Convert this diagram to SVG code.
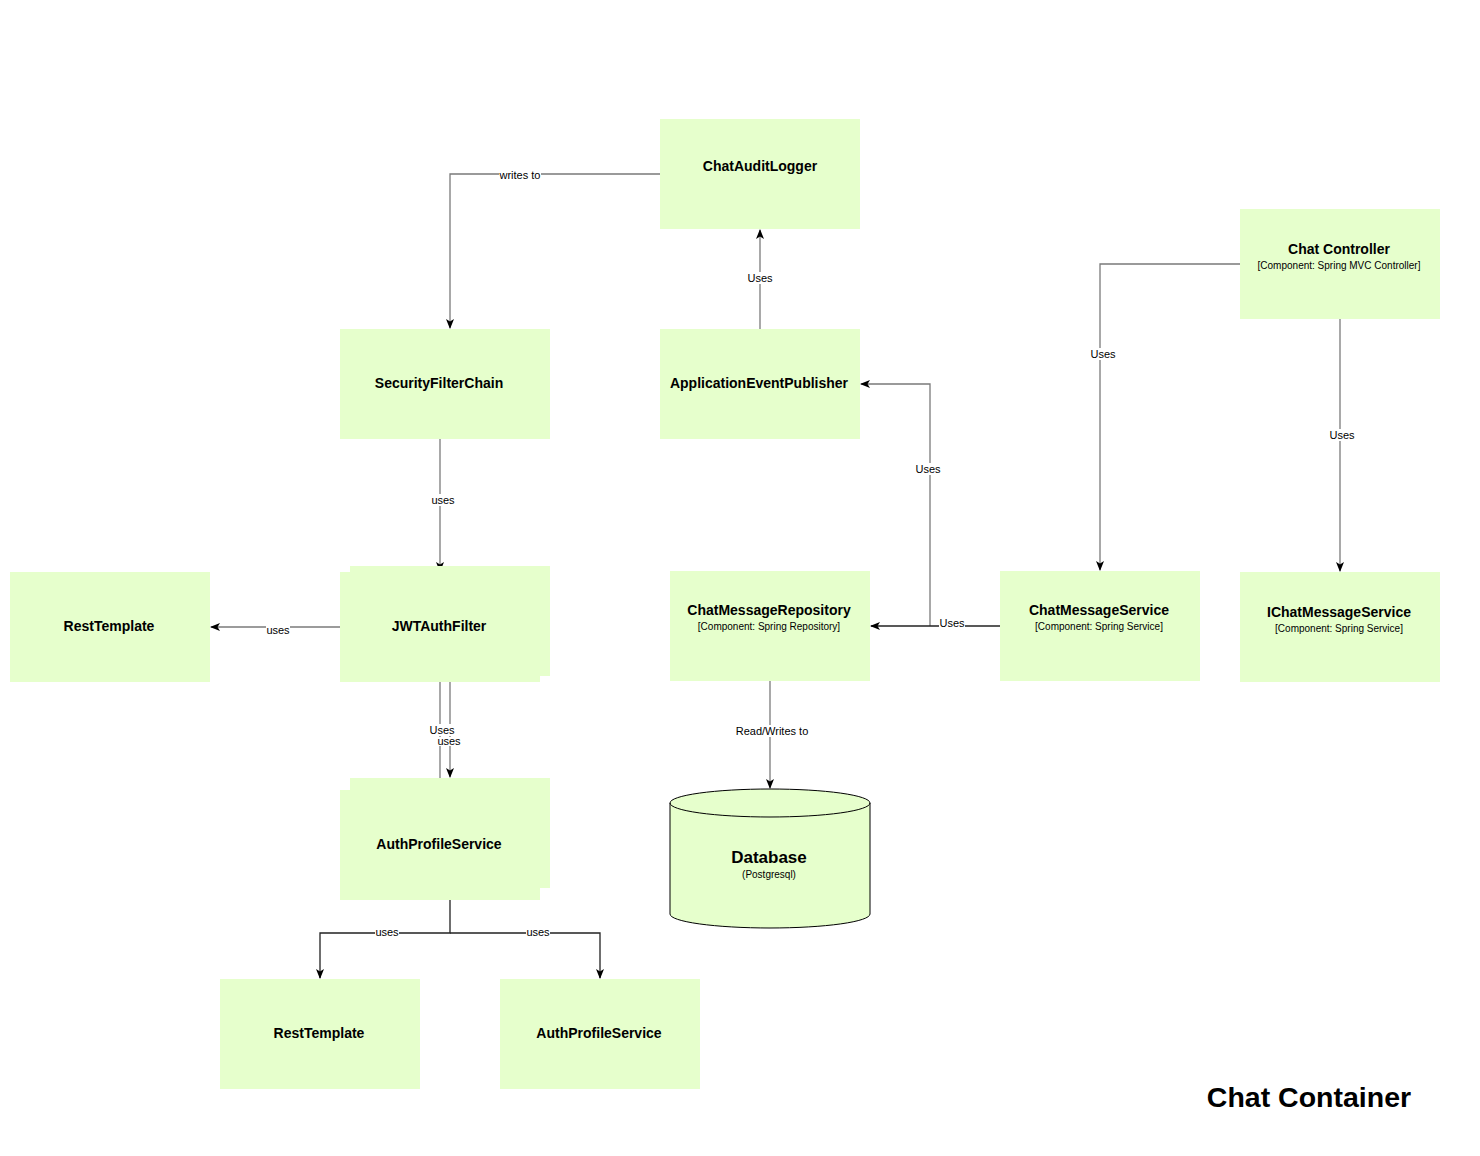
<svg xmlns="http://www.w3.org/2000/svg" width="1480" height="1156" viewBox="0 0 1480 1156">
  <style>
    .box { fill: #e6ffcc; }
    .title { font-family: "Liberation Sans", Arial, sans-serif; font-size: 14px; font-weight: bold; fill: #000; text-anchor: middle; }
    .sub { font-family: "Liberation Sans", Arial, sans-serif; font-size: 10px; fill: #000; text-anchor: middle; }
    .edge { fill: none; stroke: #7a7a7a; stroke-width: 1.3; marker-end: url(#arrow); }
    .edge.dark { stroke: #222; }
    .lbl { font-family: "Liberation Sans", Arial, sans-serif; font-size: 11px; fill: #000; text-anchor: middle; }
    .lblbg { fill: #fff; }
  </style>
  <defs>
    <marker id="arrow" viewBox="0 0 10 8" refX="9" refY="4" markerWidth="10" markerHeight="8" markerUnits="userSpaceOnUse" orient="auto">
      <path d="M0,0 L10,4 L0,8 L2.5,4 z" fill="#000"/>
    </marker>
  </defs>
  <rect width="1480" height="1156" fill="#fff"/>

  <!-- connectors -->
  <g id="connectors">
    <path class="edge" d="M660,174 H450 V328"/>
    <rect class="lblbg" x="499" y="169" width="42" height="12"/>
    <text class="lbl" x="520" y="179">writes to</text>

    <path class="edge" d="M760,329 V230"/>
    <rect class="lblbg" x="747" y="272" width="26" height="12"/>
    <text class="lbl" x="760" y="282">Uses</text>

    <path class="edge" d="M440,439 V571"/>
    <rect class="lblbg" x="431" y="494" width="24" height="12"/>
    <text class="lbl" x="443" y="504">uses</text>

    <path class="edge" d="M340,627 H211"/>
    <rect class="lblbg" x="266" y="625" width="24" height="11"/>
    <text class="lbl" x="278" y="634">uses</text>

    <path class="edge" d="M440,682 V789"/>
    <path class="edge" d="M450,676 V777"/>
    <rect class="lblbg" x="429" y="724" width="26" height="12"/>
    <text class="lbl" x="442" y="734">Uses</text>
    <rect class="lblbg" x="437" y="737" width="24" height="9"/>
    <text class="lbl" x="449" y="745">uses</text>

    <path class="edge dark" d="M450,900 V933 H320 V978"/>
    <path class="edge dark" d="M450,933 H600 V978"/>
    <rect class="lblbg" x="375" y="927" width="24" height="11"/>
    <text class="lbl" x="387" y="936">uses</text>
    <rect class="lblbg" x="526" y="927" width="24" height="11"/>
    <text class="lbl" x="538" y="936">uses</text>

    <path class="edge" d="M770,681 V788"/>
    <rect class="lblbg" x="735" y="725" width="74" height="12"/>
    <text class="lbl" x="772" y="735">Read/Writes to</text>

    <path class="edge" d="M930,626 V384 H861"/>
    <rect class="lblbg" x="915" y="463" width="26" height="12"/>
    <text class="lbl" x="928" y="473">Uses</text>

    <path class="edge dark" d="M1000,626 H871"/>
    <rect class="lblbg" x="939" y="617" width="26" height="11"/>
    <text class="lbl" x="952" y="627">Uses</text>

    <path class="edge" d="M1240,264 H1100 V570"/>
    <rect class="lblbg" x="1090" y="348" width="26" height="12"/>
    <text class="lbl" x="1103" y="358">Uses</text>

    <path class="edge" d="M1340,319 V571"/>
    <rect class="lblbg" x="1329" y="429" width="26" height="12"/>
    <text class="lbl" x="1342" y="439">Uses</text>
  </g>

  <!-- nodes -->
  <g id="chat-audit-logger">
    <rect class="box" x="660" y="119" width="200" height="110"/>
    <text class="title" x="760" y="171">ChatAuditLogger</text>
  </g>
  <g id="security-filter-chain">
    <rect class="box" x="340" y="329" width="210" height="110"/>
    <text class="title" x="439" y="388">SecurityFilterChain</text>
  </g>
  <g id="application-event-publisher">
    <rect class="box" x="660" y="329" width="200" height="110"/>
    <text class="title" x="759" y="388">ApplicationEventPublisher</text>
  </g>
  <g id="chat-controller">
    <rect class="box" x="1240" y="209" width="200" height="110"/>
    <text class="title" x="1339" y="254">Chat Controller</text>
    <text class="sub" x="1339" y="269">[Component: Spring MVC Controller]</text>
  </g>
  <g id="rest-template-left">
    <rect class="box" x="10" y="572" width="200" height="110"/>
    <text class="title" x="109" y="631">RestTemplate</text>
  </g>
  <g id="jwt-auth-filter">
    <rect class="box" x="350" y="566" width="200" height="110"/>
    <rect class="box" x="340" y="572" width="200" height="110"/>
    <text class="title" x="439" y="631">JWTAuthFilter</text>
  </g>
  <g id="chat-message-repository">
    <rect class="box" x="670" y="571" width="200" height="110"/>
    <text class="title" x="769" y="615">ChatMessageRepository</text>
    <text class="sub" x="769" y="630">[Component: Spring Repository]</text>
  </g>
  <g id="chat-message-service">
    <rect class="box" x="1000" y="571" width="200" height="110"/>
    <text class="title" x="1099" y="615">ChatMessageService</text>
    <text class="sub" x="1099" y="630">[Component: Spring Service]</text>
  </g>
  <g id="ichat-message-service">
    <rect class="box" x="1240" y="572" width="200" height="110"/>
    <text class="title" x="1339" y="617">IChatMessageService</text>
    <text class="sub" x="1339" y="632">[Component: Spring Service]</text>
  </g>
  <g id="auth-profile-service">
    <rect class="box" x="350" y="778" width="200" height="110"/>
    <rect class="box" x="340" y="790" width="200" height="110"/>
    <text class="title" x="439" y="849">AuthProfileService</text>
  </g>
  <g id="database">
    <path d="M670,803 A100,14 0 0,1 870,803 V914 A100,14 0 0,1 670,914 Z" fill="#e6ffcc" stroke="#000" stroke-width="1"/>
    <path d="M670,803 A100,14 0 0,0 870,803" fill="none" stroke="#000" stroke-width="1"/>
    <text x="769" y="863" font-family="Liberation Sans, Arial, sans-serif" font-size="17" font-weight="bold" text-anchor="middle">Database</text>
    <text class="sub" x="769" y="878">(Postgresql)</text>
  </g>
  <g id="rest-template-bottom">
    <rect class="box" x="220" y="979" width="200" height="110"/>
    <text class="title" x="319" y="1038">RestTemplate</text>
  </g>
  <g id="auth-profile-service-bottom">
    <rect class="box" x="500" y="979" width="200" height="110"/>
    <text class="title" x="599" y="1038">AuthProfileService</text>
  </g>

  <text x="1309" y="1107" font-family="Liberation Sans, Arial, sans-serif" font-size="28.5" font-weight="bold" text-anchor="middle">Chat Container</text>
</svg>
